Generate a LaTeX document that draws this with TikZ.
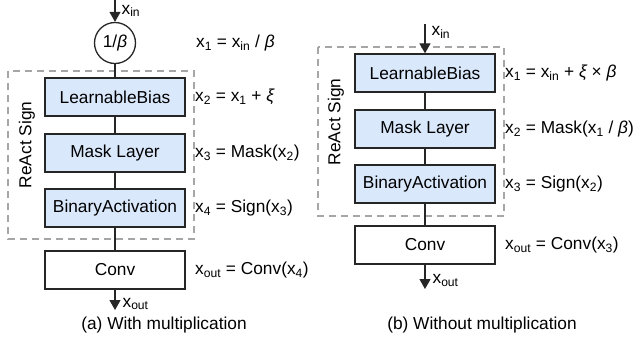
\documentclass[tikz,border=0pt]{standalone}
\usepackage{fontspec}
\setmainfont{Liberation Sans}
\usetikzlibrary{arrows.meta}
\newcommand{\sub}[1]{\textsubscript{#1}}
\newcommand{\gr}[1]{{\itshape #1}}

\begin{document}
\begin{tikzpicture}[x=1pt,y=-1pt,
	font=\fontsize{17.3}{20}\selectfont,
	block/.style={draw=black!85, line width=1.3pt, fill=blueboxfill, minimum width=140pt, minimum height=38pt, inner sep=0pt},
	convbox/.style={draw=black!85, line width=1.3pt, fill=white, minimum width=140pt, minimum height=38pt, inner sep=0pt},
	group/.style={draw=black!35, line width=1.3pt, dash pattern=on 7pt off 5pt},
	eqn/.style={anchor=west, inner sep=0pt},
	link/.style={draw=black!85, line width=1.2pt},
	arr/.style={link, -{Triangle[length=10pt,width=11pt]}},
	]
	\definecolor{blueboxfill}{HTML}{DAE8FC}
	\useasboundingbox (0,0) rectangle (638,341);
	%%%%% START %%%%%

	%% (a) with multiplication
	\draw[group] (8,71) rectangle (194,239);
	\node[rotate=90] (signa) at (27,145) {ReAct Sign};

	\coordinate (ina) at (115,0);
	\node[circle, draw=black!85, line width=1.3pt, minimum size=41pt, inner sep=0pt] (scl) at (115,43) {1/\gr{β}};
	\node[block] (biasa) at (115,97) {LearnableBias};
	\node[block] (maska) at (115,153) {Mask Layer};
	\node[block] (binra) at (115,208) {BinaryActivation};
	\node[convbox] (conva) at (115,270) {Conv};
	\coordinate (outa) at (115,310);

	\draw[arr] (ina) -- (scl) node[pos=0.5, right=6pt, inner sep=0pt] {x\sub{in}};
	\draw[link] (scl) -- (biasa);
	\draw[link] (biasa) -- (maska);
	\draw[link] (maska) -- (binra);
	\draw[link] (binra) -- (conva);
	\draw[arr] (conva) -- (outa) node[pos=0.7, right=7pt, inner sep=0pt] {x\sub{out}};

	\node[eqn] (eqa1) at (196,43) {x\sub{1} = x\sub{in} / \gr{β}};
	\node[eqn] (eqa2) at (195,97) {x\sub{2} = x\sub{1} + \gr{ξ}};
	\node[eqn] (eqa3) at (195,153) {x\sub{3} = Mask(x\sub{2})};
	\node[eqn] (eqa4) at (195,208) {x\sub{4} = Sign(x\sub{3})};
	\node[eqn] (eqa5) at (195,270) {x\sub{out} = Conv(x\sub{4})};

	\node (capa) at (164,325) {(a) With multiplication};

	%% (b) without multiplication
	\draw[group] (318,47) rectangle (504,216);
	\node[rotate=90] (signb) at (336,122) {ReAct Sign};

	\coordinate (inb) at (425,24);
	\node[block] (biasb) at (425,73) {LearnableBias};
	\node[block] (maskb) at (425,129) {Mask Layer};
	\node[block] (binrb) at (425,184) {BinaryActivation};
	\node[convbox] (convb) at (425,245) {Conv};
	\coordinate (outb) at (425,289);

	\draw[arr] (inb) -- (biasb) node[pos=0.3, right=6pt, inner sep=0pt] {x\sub{in}};
	\draw[link] (biasb) -- (maskb);
	\draw[link] (maskb) -- (binrb);
	\draw[link] (binrb) -- (convb);
	\draw[arr] (convb) -- (outb) node[pos=0.65, right=7pt, inner sep=0pt] {x\sub{out}};

	\node[eqn] (eqb1) at (505,73) {x\sub{1} = x\sub{in} + \gr{ξ} × \gr{β}};
	\node[eqn] (eqb2) at (505,129) {x\sub{2} = Mask(x\sub{1} / \gr{β})};
	\node[eqn] (eqb3) at (505,184) {x\sub{3} = Sign(x\sub{2})};
	\node[eqn] (eqb4) at (505,245) {x\sub{out} = Conv(x\sub{3})};

	\node (capb) at (482,325) {(b) Without multiplication};

	%%%%% END %%%%%
\end{tikzpicture}
\end{document}
